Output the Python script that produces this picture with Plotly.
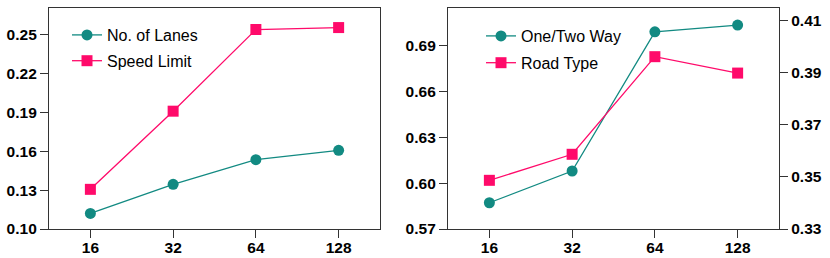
import plotly.graph_objects as go

categories = ["16", "32", "64", "128"]
lanes = [0.112, 0.1345, 0.1535, 0.1607]
speed_limit = [0.1306, 0.1909, 0.2539, 0.2554]
one_two_way = [0.5872, 0.608, 0.6992, 0.7036]
road_type = [0.3487, 0.3587, 0.3962, 0.3899]

left_ticks = [0.10, 0.13, 0.16, 0.19, 0.22, 0.25]
mid_ticks = [0.57, 0.60, 0.63, 0.66, 0.69]
right_ticks = [0.33, 0.35, 0.37, 0.39, 0.41]

TEAL = "#128a82"
PINK = "#ff0a6a"
W, H = 830, 258

fig = go.Figure()
fig.add_trace(go.Scatter(x=categories, y=lanes, name="No. of Lanes", mode="lines+markers",
                         line=dict(color=TEAL, width=1.3), marker=dict(symbol="circle", size=11, color=TEAL),
                         xaxis="x", yaxis="y", legend="legend", legendgroup="a"))
fig.add_trace(go.Scatter(x=categories, y=speed_limit, name="Speed Limit", mode="lines+markers",
                         line=dict(color=PINK, width=1.3), marker=dict(symbol="square", size=11, color=PINK),
                         xaxis="x", yaxis="y", legend="legend", legendgroup="b"))
fig.add_trace(go.Scatter(x=categories, y=one_two_way, name="One/Two Way", mode="lines+markers",
                         line=dict(color=TEAL, width=1.3), marker=dict(symbol="circle", size=11, color=TEAL),
                         xaxis="x2", yaxis="y2", legend="legend2", legendgroup="c"))
fig.add_trace(go.Scatter(x=categories, y=road_type, name="Road Type", mode="lines+markers",
                         line=dict(color=PINK, width=1.3), marker=dict(symbol="square", size=11, color=PINK),
                         xaxis="x2", yaxis="y3", legend="legend2", legendgroup="d"))

yb = (H - 229) / H
yt = (H - 8) / H
tickfont = dict(family="Liberation Sans", size=15.5, color="black", weight="bold")
axis_common = dict(showline=True, linecolor="#333", linewidth=1.3, ticks="outside", ticklen=8,
                   tickwidth=1.3, tickcolor="#333", showgrid=False, zeroline=False, tickfont=tickfont,
                   automargin=False)

fig.update_layout(
    width=W, height=H, margin=dict(l=0, r=0, t=0, b=0, autoexpand=False),
    paper_bgcolor="white", plot_bgcolor="white",
    font=dict(family="Liberation Sans", color="black"),
    xaxis=dict(domain=[49 / W, 380 / W], anchor="y", type="category", range=[-0.5, 3.5],
               mirror=True, ticklabelstandoff=-4, **axis_common),
    yaxis=dict(domain=[yb, yt], anchor="x", range=[0.10, 0.2705], tickvals=left_ticks,
               tickformat=".2f", mirror=True, **axis_common),
    xaxis2=dict(domain=[448 / W, 779 / W], anchor="y2", type="category", range=[-0.5, 3.5],
                mirror=True, ticklabelstandoff=-4, **axis_common),
    yaxis2=dict(domain=[yb, yt], anchor="x2", range=[0.57, 0.7148], tickvals=mid_ticks,
                tickformat=".2f", **axis_common),
    yaxis3=dict(overlaying="y2", side="right", anchor="x2", range=[0.33, 0.4149], tickvals=right_ticks,
                tickformat=".2f", **axis_common),
    legend=dict(x=67 / W, y=(H - 18) / H, xanchor="left", yanchor="top", bgcolor="rgba(0,0,0,0)",
                font=dict(family="Liberation Sans", size=16, color="black"), tracegroupgap=2,
                itemwidth=30),
    legend2=dict(x=481 / W, y=(H - 19) / H, xanchor="left", yanchor="top", bgcolor="rgba(0,0,0,0)",
                 font=dict(family="Liberation Sans", size=16, color="black"), tracegroupgap=3,
                 itemwidth=30),
    showlegend=True,
)

fig.write_html("out.html", config={"displayModeBar": False},
               post_script="document.body.style.margin='0';document.body.style.padding='0';")
